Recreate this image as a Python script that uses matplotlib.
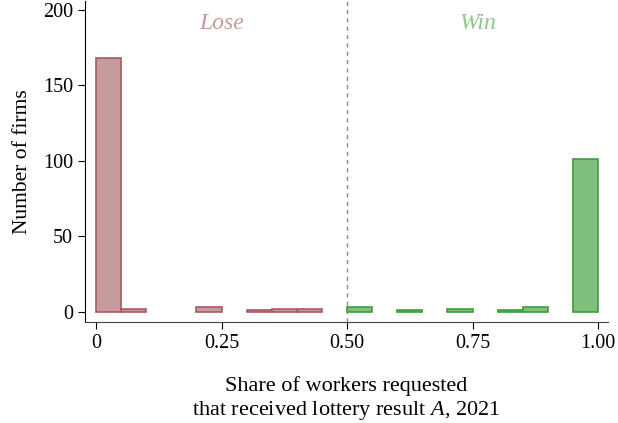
import numpy as np
import matplotlib.pyplot as plt

# histogram bins (width 0.05) and firm counts
bin_edges = np.round(np.arange(0, 1.0001, 0.05), 2)
lose_counts = [168, 2, 0, 0, 3, 0, 1, 2, 2, 0]
win_counts = [3, 0, 1, 0, 2, 0, 1, 3, 0, 101]

lose_color, lose_edge = '#c79a9d', '#a85a62'
win_color, win_edge = '#80c07c', '#3f9c3c'

plt.rcParams['font.family'] = ['Liberation Serif', 'DejaVu Serif']
plt.rcParams['mathtext.fontset'] = 'custom'
plt.rcParams['mathtext.it'] = 'Liberation Serif:italic'
plt.rcParams['mathtext.rm'] = 'Liberation Serif'

fig = plt.figure(figsize=(6.18, 4.23), dpi=100)
ax = fig.add_axes([0.1375, 0.239, 0.8465, 0.759])

lefts = bin_edges[:-1]
for x0, n in zip(lefts[:10], lose_counts):
    if n > 0:
        ax.bar(x0, n, width=0.05, align='edge',
               color=lose_color, edgecolor=lose_edge, linewidth=1.2)
for x0, n in zip(lefts[10:], win_counts):
    if n > 0:
        ax.bar(x0, n, width=0.05, align='edge',
               color=win_color, edgecolor=win_edge, linewidth=1.2)

ax.axvline(0.5, color='#888888', linestyle=(0, (3, 3)), linewidth=1)

ax.text(0.25, 191, 'Lose', color='#c8999b', fontsize=17, style='italic',
        ha='center', va='center')
ax.text(0.76, 191, 'Win', color='#8cc88a', fontsize=17, style='italic',
        ha='center', va='center')

ax.set_xlim(-0.022, 1.02)
ax.set_ylim(-6.6, 206)
ax.set_xticks([0, 0.25, 0.5, 0.75, 1.0])
ax.set_xticklabels(['0', '0.25', '0.50', '0.75', '1.00'])
ax.set_yticks([0, 50, 100, 150, 200])
ax.tick_params(labelsize=14.5, length=5, direction='out')

for s in ['top', 'right']:
    ax.spines[s].set_visible(False)
ax.spines['bottom'].set_color('#444444')

ax.set_ylabel('Number of firms', fontsize=15.5, labelpad=8)
ax.set_xlabel('Share of workers requested\nthat received lottery result $\\mathit{A}$, 2021',
              fontsize=16, labelpad=17, linespacing=1.15)

fig.savefig('out.png', dpi=100)
